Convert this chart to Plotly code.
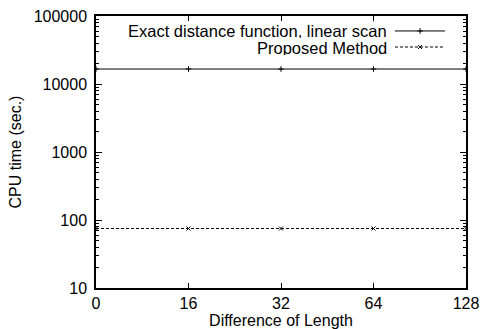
import plotly.graph_objects as go

categories = ["0", "16", "32", "64", "128"]
exact_scan = [16600, 16600, 16600, 16600, 16600]
proposed = [75, 75, 75, 75, 75]
series_names = ["Exact distance function, linear scan", "Proposed Method"]
y_ticks = [10, 100, 1000, 10000, 100000]

FONT = "Liberation Sans, Arial, sans-serif"
FS = 16

fig = go.Figure()
fig.add_trace(go.Scatter(x=categories, y=exact_scan, mode="lines+markers",
                         line=dict(color="black", width=1),
                         marker=dict(symbol="cross-thin", size=4, line=dict(color="black", width=1)),
                         showlegend=False))
fig.add_trace(go.Scatter(x=categories, y=proposed, mode="lines+markers",
                         line=dict(color="black", width=1, dash="3px,2px"),
                         marker=dict(symbol="x-thin", size=4, line=dict(color="black", width=1)),
                         showlegend=False))

# legend samples (decoration, in an overlay axis with unit range)
leg_y = [0.945, 0.886]
styles = [dict(color="black", width=1), dict(color="black", width=1, dash="3px,2px")]
syms = ["cross-thin", "x-thin"]
for i in range(2):
    fig.add_trace(go.Scatter(x=[0.808, 0.876, 0.943], y=[leg_y[i]] * 3, mode="lines",
                             line=styles[i], xaxis="x2", yaxis="y2", showlegend=False,
                             hoverinfo="skip"))
    fig.add_trace(go.Scatter(x=[0.876], y=[leg_y[i]], mode="markers",
                             marker=dict(symbol=syms[i], size=4, line=dict(color="black", width=1)),
                             xaxis="x2", yaxis="y2", showlegend=False, hoverinfo="skip"))
    fig.add_annotation(x=0.789, y=leg_y[i], xref="paper", yref="paper", text=series_names[i],
                       showarrow=False, xanchor="right", yanchor="middle",
                       height=15, borderpad=0,
                       font=dict(family=FONT, size=16.5, color="black"))

fig.update_layout(
    width=481, height=329,
    margin=dict(l=96, r=15, t=16, b=41),
    paper_bgcolor="white", plot_bgcolor="white",
    font=dict(family=FONT, size=FS, color="black"),
    xaxis=dict(type="category", range=[0, 4], showgrid=False, zeroline=False,
               showline=True, linecolor="black", linewidth=1.5, mirror="allticks",
               ticks="inside", ticklen=5, tickcolor="black", ticklabelstandoff=0,
               automargin=False,
               title=dict(text="Difference of Length", standoff=2, font=dict(size=FS))),
    yaxis=dict(type="log", range=[1, 5], showgrid=False, zeroline=False,
               showline=True, linecolor="black", linewidth=1.5, mirror="allticks",
               ticks="inside", ticklen=6, tickcolor="black", ticklabelstandoff=4,
               tickvals=y_ticks, ticktext=[str(v) for v in y_ticks],
               minor=dict(ticks="inside", ticklen=3, tickcolor="black", dtick="D1"),
               automargin=False,
               title=dict(text="CPU time (sec.)", standoff=8, font=dict(size=FS))),
    xaxis2=dict(overlaying="x", range=[0, 1], visible=False),
    yaxis2=dict(overlaying="y", range=[0, 1], visible=False),
)

fig.write_html("out.html")
